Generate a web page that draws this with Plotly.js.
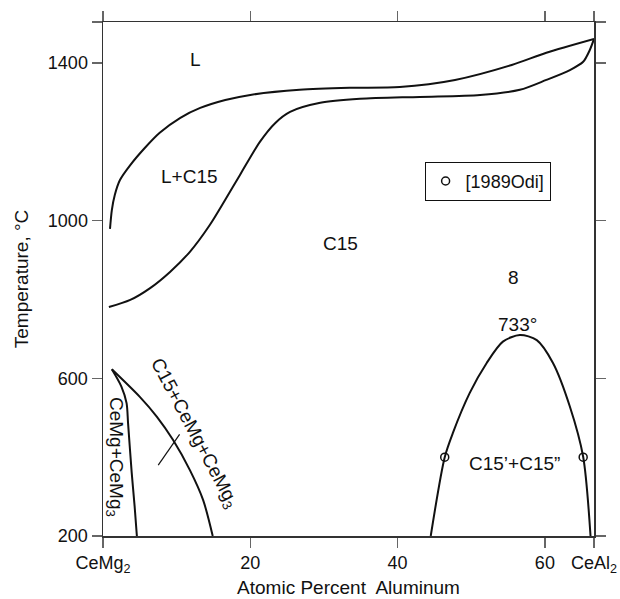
<!DOCTYPE html>
<html><head><meta charset="utf-8">
<script src="https://cdn.plot.ly/plotly-3.0.1.min.js"></script>
<style>body{margin:0;background:#fff}#c{width:620px;height:599px}</style>
</head><body><div id="c"></div>
<script>
// Liquidus (upper boundary of L+C15)
const liqX = [0.95,1.2,1.6,2.3,3.7,5.7,7.7,10.5,13.2,16.6,20.0,26.7,33.5,40.3,47.8,55.5,60.2,66.67];
const liqY = [979,1027,1065,1103,1141,1185,1223,1261,1286,1306,1319,1332,1337,1339,1357,1395,1426,1461];
// Solidus (lower boundary of L+C15)
const solX = [0.8,3.7,6.4,9.1,11.8,14.5,16.6,18.6,21.3,23.4,25.4,29.5,34.9,43.0,51.2,56.6,60.2,63.4,65.2,66.1,66.67];
const solY = [781,799,829,870,921,989,1053,1116,1200,1248,1276,1299,1309,1314,1319,1332,1357,1382,1403,1433,1461];
// CeMg+CeMg3 boundary
const mgAX = [1.2,2.5,3.2,3.4,3.9,4.3,4.6];
const mgAY = [623,579,537,487,360,274,200];
// C15+CeMg+CeMg3 boundary
const mgBX = [1.2,5.0,7.3,9.5,11.8,13.6,14.9];
const mgBY = [623,553,503,444,367,291,200];
// tie line
const tieX = [7.5,10.4];
const tieY = [380,458];
// miscibility gap dome
const domeX = [44.5,46.4,47.5,49.8,52.1,54.3,56.6,58.9,61.1,63.4,65.2,66.2];
const domeY = [200,400,461,563,639,693,710,697,639,528,401,200];
// experimental points [1989Odi]
const expX = [46.4,65.2];
const expY = [400,400];
// ticks
const xTickVals = [0,20,40,60,66.67];
const xTickText = ['CeMg<sub>2</sub>','20','40','60','CeAl<sub>2</sub>'];
const yTickVals = [200,600,1000,1400,1504];
const yTickText = ['200','600','1000','1400',' '];

const line = {color:'#111',width:2,shape:'spline',smoothing:0.8};
const cur = (x,y,ln)=>({x:x,y:y,mode:'lines',line:ln||line,showlegend:false,hoverinfo:'skip'});
const traces = [
  cur(liqX,liqY), cur(solX,solY), cur(mgAX,mgAY), cur(mgBX,mgBY),
  cur(tieX,tieY,{color:'#111',width:1.2}), cur(domeX,domeY),
  {x:expX,y:expY,mode:'markers',name:'[1989Odi]',
   marker:{symbol:'circle-open',size:8,color:'#111',line:{width:1.5}}}
];
const F = 'Liberation Sans, Arial, sans-serif';
const ann = (x,y,t,a)=>({x:x,y:y,text:t,showarrow:false,textangle:a||0,font:{family:F,size:19,color:'#111'}});
const layout = {
  width:620,height:599,
  margin:{l:103,r:26,t:22,b:63},
  paper_bgcolor:'#fff',plot_bgcolor:'#fff',
  font:{family:F,size:18,color:'#111'},
  xaxis:{range:[0,66.67],tickvals:xTickVals,ticktext:xTickText,ticks:'outside',ticklen:10,
    tickcolor:'#666',tickwidth:1.3,showline:true,linecolor:'#333',linewidth:1.5,mirror:'ticks',
    showgrid:false,zeroline:false,tickfont:{family:F,size:18},
    title:{text:'Atomic Percent  Aluminum',font:{family:F,size:19},standoff:6}},
  yaxis:{range:[200,1504],tickvals:yTickVals,ticktext:yTickText,ticks:'outside',ticklen:10,
    tickcolor:'#666',tickwidth:1.3,showline:true,linecolor:'#333',linewidth:1.5,mirror:'ticks',
    showgrid:false,zeroline:false,tickfont:{family:F,size:18},
    title:{text:'Temperature, °C',font:{family:F,size:19},standoff:14}},
  showlegend:true,
  legend:{x:0.655,y:0.728,xanchor:'left',yanchor:'top',bordercolor:'#111',borderwidth:1,
    bgcolor:'#fff',font:{family:F,size:18},itemwidth:30,tracegroupgap:0},
  annotations:[
    ann(12.6,1408,'L'), ann(11.8,1113,'L+C15'), ann(32.2,943,'C15'), ann(55.7,857,'8'),
    ann(56.3,737,'733°'), ann(55.9,385,'C15’+C15”'),
    ann(1.6,401,'CeMg+CeMg<sub>3</sub>',90), ann(12.3,461,'C15+CeMg+CeMg<sub>3</sub>',62)
  ]
};
Plotly.newPlot('c',traces,layout,{displayModeBar:false,staticPlot:true});
</script></body></html>
